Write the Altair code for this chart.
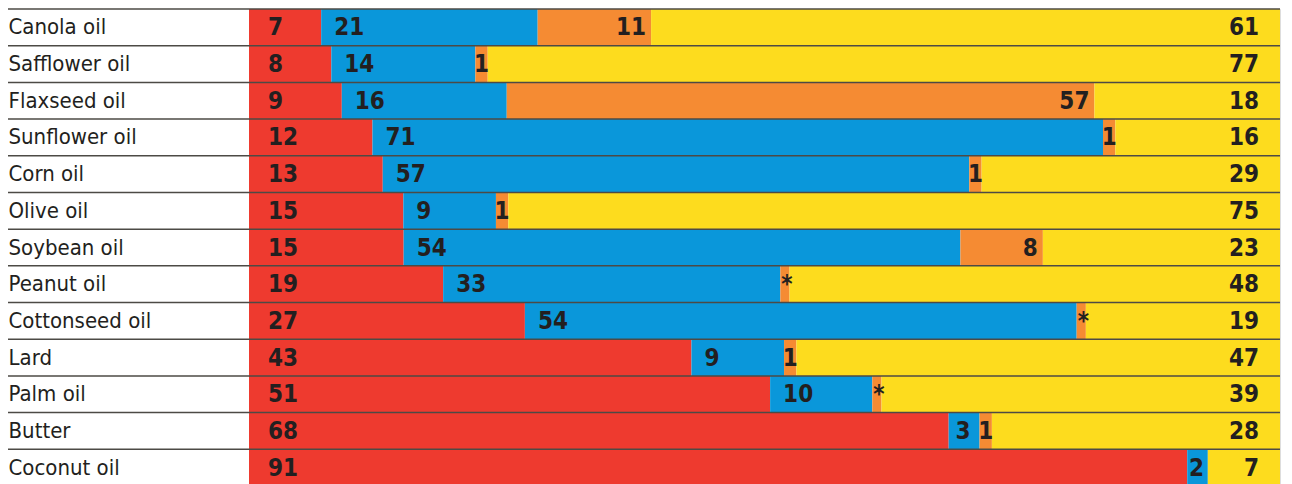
import altair as alt
import pandas as pd

oils = ["Canola oil", "Safflower oil", "Flaxseed oil", "Sunflower oil", "Corn oil",
        "Olive oil", "Soybean oil", "Peanut oil", "Cottonseed oil", "Lard",
        "Palm oil", "Butter", "Coconut oil"]
saturated = [7, 8, 9, 12, 13, 15, 15, 19, 27, 43, 51, 68, 91]
linoleic = [21, 14, 16, 71, 57, 9, 54, 33, 54, 9, 10, 3, 2]
alpha_linolenic = [11, 1.2, 57, 1.2, 1.2, 1.2, 8, 0.9, 0.9, 1.2, 0.9, 1.2, 0]
alpha_labels = ["11", "1", "57", "1", "1", "1", "8", "*", "*", "1", "*", "1", ""]
monounsaturated = [61, 77, 18, 16, 29, 75, 23, 48, 19, 47, 39, 28, 7]

components = ["Saturated", "Linoleic", "Alpha-linolenic", "Monounsaturated"]
colors = ["#EE3A2F", "#0A97DA", "#F58B33", "#FDDC1E"]

rows = []
for i, oil in enumerate(oils):
    vals = [saturated[i], linoleic[i], alpha_linolenic[i], monounsaturated[i]]
    labs = [str(saturated[i]), str(linoleic[i]), alpha_labels[i], str(monounsaturated[i])]
    for k, comp in enumerate(components):
        rows.append({"oil": oil, "comp": comp, "order": k, "w": vals[k], "label": labs[k]})
df = pd.DataFrame(rows)

W = 1031
H = 477
LEFT = 249
FONT = "DejaVu Sans Condensed, Roboto, sans-serif"

base = alt.Chart(df).transform_stack(
    stack="w", groupby=["oil"], sort=[alt.SortField("order")], as_=["x0", "x1"], offset="normalize"
).transform_calculate(mid="(datum.x0 + datum.x1) / 2")

y = alt.Y("oil:N", sort=oils, scale=alt.Scale(paddingInner=0, paddingOuter=0),
          axis=alt.Axis(title=None, ticks=False, domain=False, labelAlign="left",
                        labelPadding=LEFT - 8, labelFont=FONT, labelFontSize=22,
                        labelColor="#231F20", labelFontWeight="normal", labelLimit=300))
xs = alt.Scale(domain=[0, 1], nice=False, zero=False)

bars = base.mark_bar().encode(
    x=alt.X("x0:Q", scale=xs, axis=None),
    x2="x1:Q",
    y=y,
    color=alt.Color("comp:N", scale=alt.Scale(domain=components, range=colors), legend=None),
)

tstyle = dict(font=FONT, fontSize=24, fontWeight="bold", color="#231F20", baseline="middle", dy=1)
yt = alt.Y("oil:N", sort=oils)

t_red = base.transform_filter("datum.order == 0").mark_text(align="left", dx=19, **tstyle).encode(
    x=alt.X("x0:Q", scale=xs), y=yt, text="label:N")
t_blue_wide = base.transform_filter("datum.order == 1 && datum.w > 5").mark_text(
    align="left", dx=13, **tstyle).encode(
    x=alt.X("x0:Q", scale=xs), y=yt, text="label:N")
t_blue_narrow = base.transform_filter("datum.order == 1 && datum.w <= 5").mark_text(
    align="center", dx=-1, **tstyle).encode(
    x=alt.X("mid:Q", scale=xs), y=yt, text="label:N")
t_orange_wide = base.transform_filter("datum.order == 2 && datum.w > 2").mark_text(
    align="right", dx=-5, **tstyle).encode(
    x=alt.X("x1:Q", scale=xs), y=yt, text="label:N")
t_orange_one = base.transform_filter("datum.order == 2 && datum.label == '1'").mark_text(
    align="center", dx=0, **tstyle).encode(
    x=alt.X("mid:Q", scale=xs), y=yt, text="label:N")
t_star = base.transform_filter("datum.order == 2 && datum.label == '*'").mark_text(
    align="left", dx=1, **tstyle).encode(
    x=alt.X("x0:Q", scale=xs), y=yt, text="label:N")
t_yellow = base.transform_filter("datum.order == 3").mark_text(
    align="right", dx=-21, **tstyle).encode(
    x=alt.X("x1:Q", scale=xs), y=yt, text="label:N")

lines_df = pd.DataFrame({"oil": oils})
lines = alt.Chart(lines_df).mark_rule(color="#4d4a45", strokeWidth=1.5).encode(
    y=alt.Y("oil:N", sort=oils, bandPosition=0),
    x=alt.value(-(LEFT - 8)),
    x2=alt.value(W),
)

chart = alt.layer(bars, lines, t_red, t_blue_wide, t_blue_narrow, t_orange_wide, t_orange_one,
                  t_star, t_yellow).properties(
    width=W, height=H,
    autosize=alt.AutoSizeParams(type="none"),
    padding={"left": LEFT, "top": 9, "right": 12, "bottom": 0},
).configure_view(stroke=None).configure(background="white")

chart.save("out.html", embed_options={"renderer": "svg", "actions": False})
